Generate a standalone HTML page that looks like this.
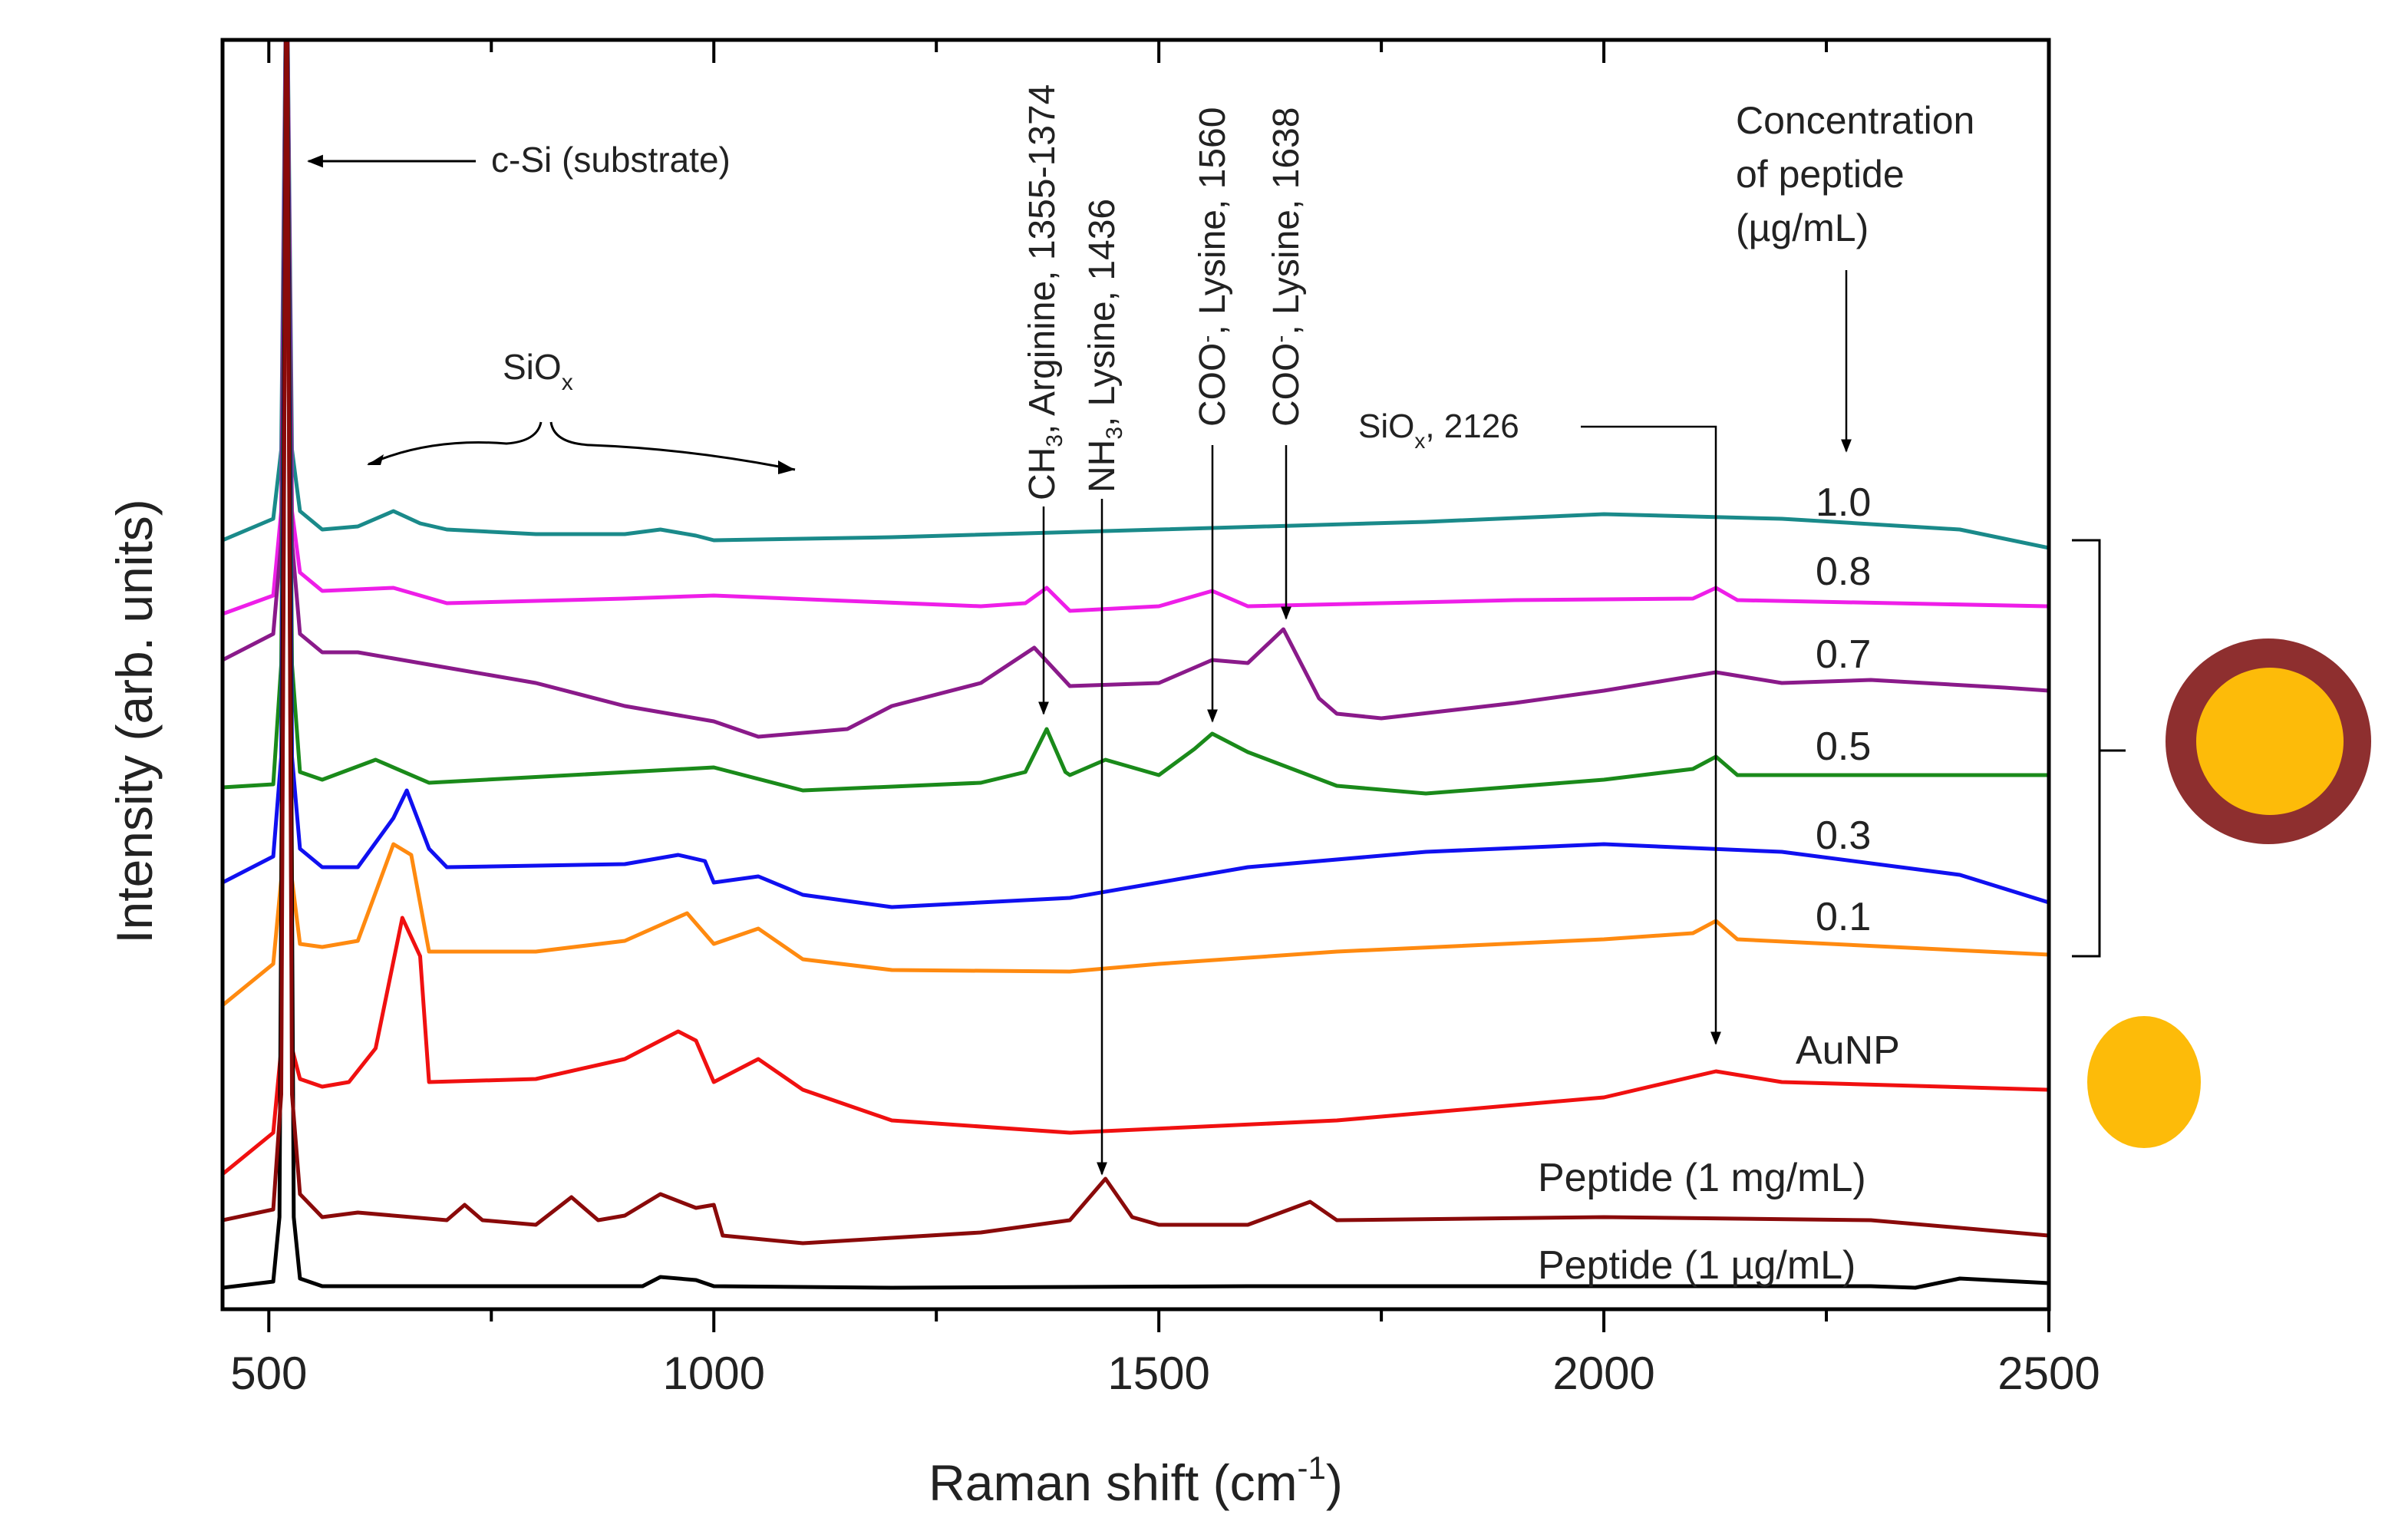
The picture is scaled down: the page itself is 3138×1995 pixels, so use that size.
<!DOCTYPE html>
<html><head><meta charset="utf-8">
<style>
html,body{margin:0;padding:0;background:#fff;}
svg{display:block;font-family:"Liberation Sans",Arial,sans-serif;}
</style></head>
<body>
<svg id="chart" width="3138" height="1995" viewBox="0 0 3138 1995" xmlns="http://www.w3.org/2000/svg">
<defs>
<clipPath id="plotclip"><rect x="290" y="52" width="2380" height="1654"/></clipPath>
<marker id="ah" viewBox="0 0 10 10" refX="9" refY="5" markerWidth="7" markerHeight="7" orient="auto-start-reverse"><path d="M0,1 L10,5 L0,9 z" fill="#000"/></marker>
</defs>
<g id="series" clip-path="url(#plotclip)"></g>
<g id="axes"></g>
<g id="annot">
  <text transform="translate(198,940) rotate(-90)" text-anchor="middle" font-size="66" fill="#222">Intensity (arb. units)</text>
  <text x="1480" y="1955" text-anchor="middle" font-size="66" fill="#222">Raman shift (cm<tspan dy="-28" font-size="42">-1</tspan><tspan dy="28">)</tspan></text>
  <line x1="620" y1="210" x2="402" y2="210" stroke="#000" stroke-width="3" marker-end="url(#ah)"/>
  <text x="640" y="224" font-size="46" fill="#222">c-Si (substrate)</text>
  <text x="655" y="494" font-size="46" fill="#222">SiO<tspan dy="14" font-size="30">x</tspan></text>
  <path d="M480,605 Q560,570 660,578 Q700,575 705,550 M718,550 Q722,578 770,580 Q900,585 1036,612" fill="none" stroke="#000" stroke-width="3"/>
  <path d="M478,606 l22,-14 l-4,14 z M1036,612 l-22,-12 l0,18 z" fill="#000"/>
  <text transform="translate(1374,652) rotate(-90)" font-size="48" fill="#222">CH<tspan dy="10" font-size="30">3</tspan><tspan dy="-10">, Arginine, 1355-1374</tspan></text>
  <line x1="1360" y1="660" x2="1360" y2="930" stroke="#000" stroke-width="2.5" marker-end="url(#ah)"/>
  <text transform="translate(1452,642) rotate(-90)" font-size="48" fill="#222">NH<tspan dy="10" font-size="30">3</tspan><tspan dy="-10">, Lysine, 1436</tspan></text>
  <line x1="1436" y1="650" x2="1436" y2="1530" stroke="#000" stroke-width="2.5" marker-end="url(#ah)"/>
  <text transform="translate(1596,556) rotate(-90)" font-size="48" fill="#222">COO<tspan dy="-14" font-size="30">-</tspan><tspan dy="14">, Lysine, 1560</tspan></text>
  <line x1="1580" y1="580" x2="1580" y2="940" stroke="#000" stroke-width="2.5" marker-end="url(#ah)"/>
  <text transform="translate(1692,556) rotate(-90)" font-size="48" fill="#222">COO<tspan dy="-14" font-size="30">-</tspan><tspan dy="14">, Lysine, 1638</tspan></text>
  <line x1="1676" y1="580" x2="1676" y2="806" stroke="#000" stroke-width="2.5" marker-end="url(#ah)"/>
  <text x="1770" y="570" font-size="44" fill="#222">SiO<tspan dy="14" font-size="28">x</tspan><tspan dy="-14">, 2126</tspan></text>
  <path d="M2060,556 L2236,556 L2236,1360" fill="none" stroke="#000" stroke-width="2.5" marker-end="url(#ah)"/>
  <text font-size="50" fill="#222"><tspan x="2262" y="174">Concentration</tspan><tspan x="2262" y="244">of peptide</tspan><tspan x="2262" y="314">(µg/mL)</tspan></text>
  <line x1="2406" y1="352" x2="2406" y2="588" stroke="#000" stroke-width="2.5" marker-end="url(#ah)"/>
  <g font-size="52" fill="#222">
    <text x="2366" y="672">1.0</text>
    <text x="2366" y="762">0.8</text>
    <text x="2366" y="870">0.7</text>
    <text x="2366" y="990">0.5</text>
    <text x="2366" y="1106">0.3</text>
    <text x="2366" y="1212">0.1</text>
    <text x="2340" y="1386">AuNP</text>
    <text x="2004" y="1552">Peptide (1 mg/mL)</text>
    <text x="2004" y="1666">Peptide (1 µg/mL)</text>
  </g>
  <path d="M2700,704 L2736,704 L2736,978 L2770,978 M2736,978 L2736,1246 L2700,1246" fill="none" stroke="#000" stroke-width="3"/>
  <circle cx="2956" cy="966" r="134" fill="#8e2f2f"/>
  <circle cx="2958" cy="966" r="96" fill="#fdbb09"/>
  <ellipse cx="2794" cy="1410" rx="74" ry="86" fill="#fdbb09"/>
</g>
<script>
// x positions (cm^-1) and intensity values (offset units) for each spectrum
const xTeal    = [448,505,514,520,526,535,560,600,640,670,700,800,900,940,980,1000,1200,1500,1800,2000,2200,2400,2500];
const yTeal    = [501,515,560,900,560,520,508,510,520,512,508,505,505,508,504,501,503,508,513,518,515,508,496];
const xMagenta = [448,505,514,520,526,535,560,640,700,900,1000,1300,1350,1374,1400,1500,1560,1600,1900,2100,2126,2150,2500];
const yMagenta = [453,465,520,900,520,480,468,470,460,463,465,458,460,470,455,458,468,458,462,463,470,462,458];
const xPurple  = [448,505,514,520,526,535,560,600,700,800,900,950,1000,1050,1150,1200,1300,1360,1400,1500,1560,1600,1640,1680,1700,1750,1900,2000,2126,2200,2300,2450,2500];
const yPurple  = [423,440,500,900,500,440,428,428,418,408,393,388,383,373,378,393,408,431,406,408,423,421,443,398,388,385,395,403,415,408,410,405,403];
const xGreen   = [448,505,514,520,526,535,560,620,680,1000,1100,1300,1350,1374,1395,1400,1440,1500,1540,1560,1600,1700,1800,2000,2100,2126,2150,2500];
const yGreen   = [340,342,420,900,420,350,345,358,343,353,338,343,350,378,350,348,358,348,365,375,363,341,336,345,352,360,348,348];
const xBlue    = [448,505,514,520,526,535,560,600,640,655,680,700,900,960,990,1000,1050,1100,1200,1400,1600,1800,2000,2200,2400,2500];
const yBlue    = [278,295,360,900,360,300,288,288,320,338,300,288,290,296,292,278,282,270,262,268,288,298,303,298,283,265];
const xOrange  = [448,505,514,520,526,535,560,580,600,640,660,680,800,900,970,1000,1050,1100,1200,1400,1500,1700,2000,2100,2126,2150,2500];
const yOrange  = [198,225,280,900,280,238,236,238,240,303,296,233,233,240,258,238,248,228,221,220,225,233,241,245,253,241,231];
const xRed     = [448,505,514,520,526,535,560,590,620,650,670,680,800,900,960,980,1000,1050,1100,1200,1400,1700,2000,2126,2200,2500];
const yRed     = [88,115,170,900,170,150,145,148,170,255,230,148,150,163,181,175,148,163,143,123,115,123,138,155,148,143];
const xPepMg   = [448,505,514,520,526,535,560,600,700,720,740,800,840,870,900,940,980,1000,1010,1100,1300,1400,1440,1470,1500,1600,1670,1700,2000,2300,2500];
const yPepMg   = [58,65,140,900,140,75,60,63,58,68,58,55,73,58,61,75,66,68,48,43,50,58,85,60,55,55,70,58,60,58,48];
const xPepUg   = [448,505,512,520,528,535,560,900,920,940,980,1000,1200,1600,2000,2300,2350,2400,2500];
const yPepUg   = [14,18,60,900,60,20,15,15,15,21,19,15,14,15,15,15,14,20,17];

const seriesList = [
  {name:'spectrum-1-0', x:xTeal, y:yTeal, color:'#1a8a8a'},
  {name:'spectrum-0-8', x:xMagenta, y:yMagenta, color:'#ee1ee8'},
  {name:'spectrum-0-7', x:xPurple, y:yPurple, color:'#8a1a8a'},
  {name:'spectrum-0-5', x:xGreen, y:yGreen, color:'#1a8a1a'},
  {name:'spectrum-0-3', x:xBlue, y:yBlue, color:'#1010f0'},
  {name:'spectrum-0-1', x:xOrange, y:yOrange, color:'#ff8a10'},
  {name:'spectrum-aunp', x:xRed, y:yRed, color:'#f01010'},
  {name:'spectrum-peptide-1ug', x:xPepUg, y:yPepUg, color:'#000000'},
  {name:'spectrum-peptide-1mg', x:xPepMg, y:yPepMg, color:'#8a0a0a'}
];
const xTicks = [500,1000,1500,2000,2500];
const xMinor = [750,1250,1750,2250];

const L=290,R=2670,T=52,B=1706, XMIN=448, XMAX=2500;
function sx(v){return L+(v-XMIN)/(XMAX-XMIN)*(R-L);}
function sy(v){return B-2*v;}
const NS='http://www.w3.org/2000/svg';
const gS=document.getElementById('series');
seriesList.forEach(s=>{
  const p=document.createElementNS(NS,'polyline');
  p.setAttribute('points', s.x.map((xv,i)=>sx(xv).toFixed(1)+','+sy(s.y[i]).toFixed(1)).join(' '));
  p.setAttribute('fill','none');
  p.setAttribute('stroke',s.color);
  p.setAttribute('stroke-width','5');
  p.setAttribute('stroke-linejoin','round');
  
  
  gS.appendChild(p);
});
const gA=document.getElementById('axes');
const frame=document.createElementNS(NS,'rect');
frame.setAttribute('x',L);frame.setAttribute('y',T);frame.setAttribute('width',R-L);frame.setAttribute('height',B-T);
frame.setAttribute('fill','none');frame.setAttribute('stroke','#000');frame.setAttribute('stroke-width','5');


gA.appendChild(frame);
function tick(x,y1,y2,name){
  const l=document.createElementNS(NS,'line');
  l.setAttribute('x1',x);l.setAttribute('x2',x);l.setAttribute('y1',y1);l.setAttribute('y2',y2);
  l.setAttribute('stroke','#000');l.setAttribute('stroke-width','4');
  
  
  gA.appendChild(l);
}
xTicks.forEach(v=>{
  const x=sx(v);
  tick(x,B,B+30,'x-tick');
  tick(x,T,T+30,'top-tick');
  const t=document.createElementNS(NS,'text');
  t.setAttribute('x',x);t.setAttribute('y',1810);t.setAttribute('text-anchor','middle');
  t.setAttribute('font-size','60');t.setAttribute('fill','#222');
  t.textContent=v;
  
  
  gA.appendChild(t);
});
xMinor.forEach(v=>{
  const x=sx(v);
  tick(x,B,B+16,'x-minor-tick');
  tick(x,T,T+16,'top-minor-tick');
});
</script>
</svg>
</body></html>
